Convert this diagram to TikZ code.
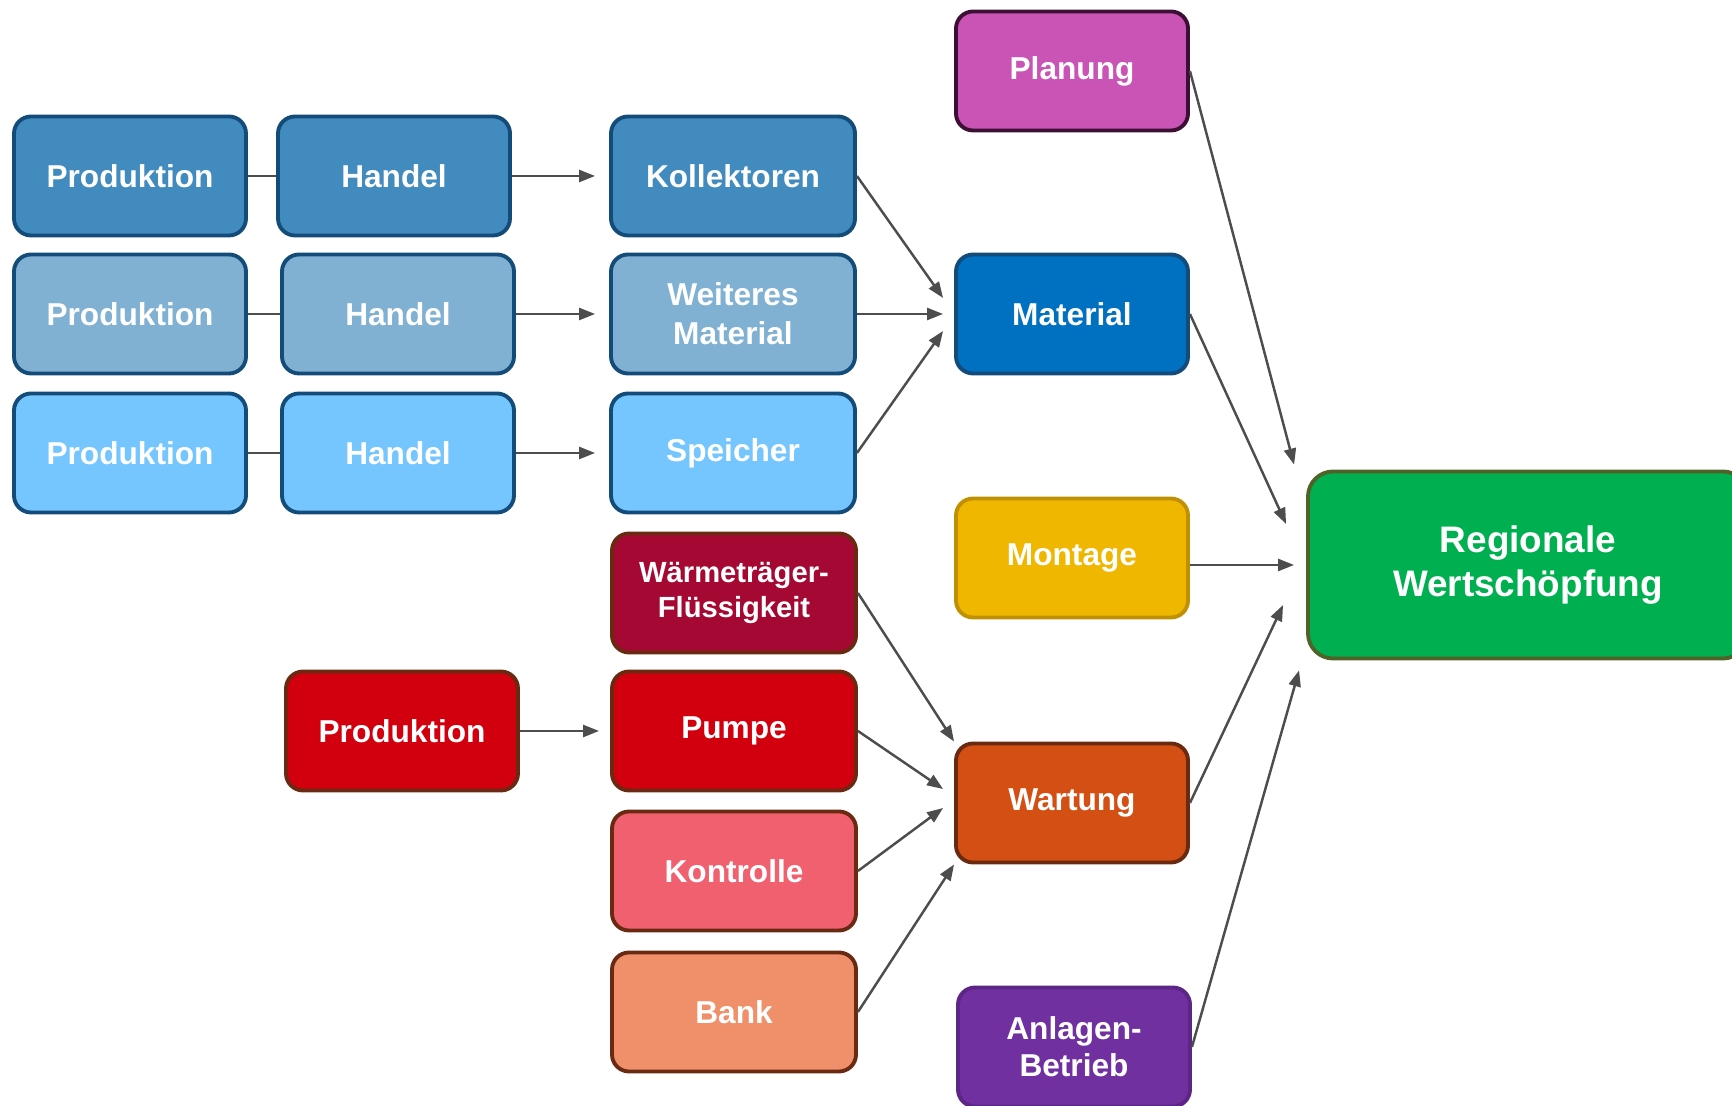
\documentclass[tikz,border=0pt]{standalone}
\usepackage{fontspec}
\setmainfont{Liberation Sans}
\usepackage{xcolor}
\usepackage{tikz}
\usetikzlibrary{positioning,calc,arrows.meta}

\definecolor{blauA}{HTML}{428BBF}
\definecolor{blauB}{HTML}{80B1D3}
\definecolor{blauC}{HTML}{75C5FE}
\definecolor{blauRand}{HTML}{134B79}
\definecolor{matBlau}{HTML}{0070C0}
\definecolor{planLila}{HTML}{CA53B6}
\definecolor{planRand}{HTML}{3B1034}
\definecolor{montGelb}{HTML}{F0B700}
\definecolor{montRand}{HTML}{BF9000}
\definecolor{regioGruen}{HTML}{00B050}
\definecolor{regioRand}{HTML}{4F6228}
\definecolor{waermRot}{HTML}{A50832}
\definecolor{pumpRot}{HTML}{D2000E}
\definecolor{kontrRosa}{HTML}{F0606E}
\definecolor{bankOrange}{HTML}{F0906A}
\definecolor{wartOrange}{HTML}{D44F13}
\definecolor{rotRand}{HTML}{6A2A12}
\definecolor{anlLila}{HTML}{7030A0}
\definecolor{anlRand}{HTML}{5B2686}
\definecolor{pfeil}{HTML}{4D4D4D}

\begin{document}
\begin{tikzpicture}
 \tikzset{block/.style={rectangle, draw, line width=1.1pt, rounded corners=1.7mm, minimum width=23.2mm, minimum height=11.9mm, text width=22mm, align=center, text=white, inner sep=0pt, font=\fontsize{9}{11}\selectfont\bfseries},
  midblock/.style={block, minimum width=24.4mm, text width=23mm},
  blau1/.style={block, fill=blauA, draw=blauRand},
  blau2/.style={block, fill=blauB, draw=blauRand},
  blau3/.style={block, fill=blauC, draw=blauRand},
  rotblock/.style={midblock, draw=rotRand},
  arr/.style={-{Triangle[length=1.6mm,width=1.2mm]}, line width=0.7pt, draw=pfeil, fill=pfeil},
  line/.style={line width=0.7pt, draw=pfeil}};
 \useasboundingbox (0,0) rectangle (17.32,11.06);
  % Lieferkette Material
  \node[blau1] (prod1) at (1.30,9.30) {Produktion};
  \node[blau1] (hand1) at (3.94,9.30) {Handel};
  \node[blau1, midblock] (koll) at (7.33,9.30) {Kollektoren};
  \node[blau2] (prod2) at (1.30,7.92) {Produktion};
  \node[blau2] (hand2) at (3.98,7.92) {Handel};
  \node[blau2, midblock] (weit) at (7.33,7.92) {Weiteres\\Material};
  \node[blau3] (prod3) at (1.30,6.53) {Produktion};
  \node[blau3] (hand3) at (3.98,6.53) {Handel};
  \node[blau3, midblock] (speich) at (7.33,6.53) {Speicher};
  \draw[line] (prod1) -- (hand1);
  \draw[line] (prod2) -- (hand2);
  \draw[line] (prod3) -- (hand3);
  \draw[arr] (hand1.east) -- ([xshift=-1.4mm]koll.west);
  \draw[arr] (hand2.east) -- ([xshift=-1.4mm]weit.west);
  \draw[arr] (hand3.east) -- ([xshift=-1.4mm]speich.west);
  % Hauptbereiche
  \node[block, fill=planLila, draw=planRand] (plan) at (10.72,10.35) {Planung};
  \node[block, fill=matBlau, draw=blauRand] (mat) at (10.72,7.92) {Material};
  \node[block, fill=montGelb, draw=montRand] (mont) at (10.72,5.48) {Montage};
  \node[block, fill=wartOrange, draw=rotRand] (wart) at (10.72,3.03) {Wartung};
  \node[block, fill=anlLila, draw=anlRand, font=\fontsize{9}{10.6}\selectfont\bfseries] (anl) at (10.74,0.59) {Anlagen-\\Betrieb};
  \node[block, fill=regioGruen, draw=regioRand, rounded corners=2.5mm, minimum width=44mm, minimum height=18.7mm, text width=42mm, font=\fontsize{10.5}{12.5}\selectfont\bfseries] (regio) at (15.28,5.41) {Regionale\\Wertschöpfung};
  \draw[arr] (koll.east) -- ([shift={(-1.1mm,1.6mm)}]mat.west);
  \draw[arr] (weit.east) -- ([xshift=-1.1mm]mat.west);
  \draw[arr] (speich.east) -- ([shift={(-1.1mm,-1.7mm)}]mat.west);
  % Wartung
  \node[rotblock, fill=waermRot, font=\fontsize{8.3}{10}\selectfont\bfseries] (waerm) at (7.34,5.13) {Wärmeträger-\\Flüssigkeit};
  \node[rotblock, fill=pumpRot, minimum width=23.2mm] (prodR) at (4.02,3.75) {Produktion};
  \node[rotblock, fill=pumpRot] (pumpe) at (7.34,3.75) {Pumpe};
  \node[rotblock, fill=kontrRosa] (kontr) at (7.34,2.35) {Kontrolle};
  \node[rotblock, fill=bankOrange] (bank) at (7.34,0.94) {Bank};
  \draw[arr] (prodR.east) -- ([xshift=-1.1mm]pumpe.west);
  \draw[arr] (waerm.east) -- (wart.north west);
  \draw[arr] (pumpe.east) -- ([shift={(-1.1mm,1.4mm)}]wart.west);
  \draw[arr] (kontr.east) -- ([shift={(-1.1mm,-0.5mm)}]wart.west);
  \draw[arr] (bank.east) -- (wart.south west);
  % Wertschoepfung
  \draw[arr] (plan.east) -- ([shift={(-1.2mm,0.5mm)}]regio.north west);
  \draw[arr] (mat.east) -- ([shift={(-2mm,4.1mm)}]regio.west);
  \draw[arr] (mont.east |- regio.west) -- ([xshift=-1.2mm]regio.west);
  \draw[arr] (wart.east) -- ([shift={(-2.3mm,-4mm)}]regio.west);
  \draw[arr] (anl.east) -- ([shift={(-0.7mm,-1mm)}]regio.south west);
\end{tikzpicture}
\end{document}
